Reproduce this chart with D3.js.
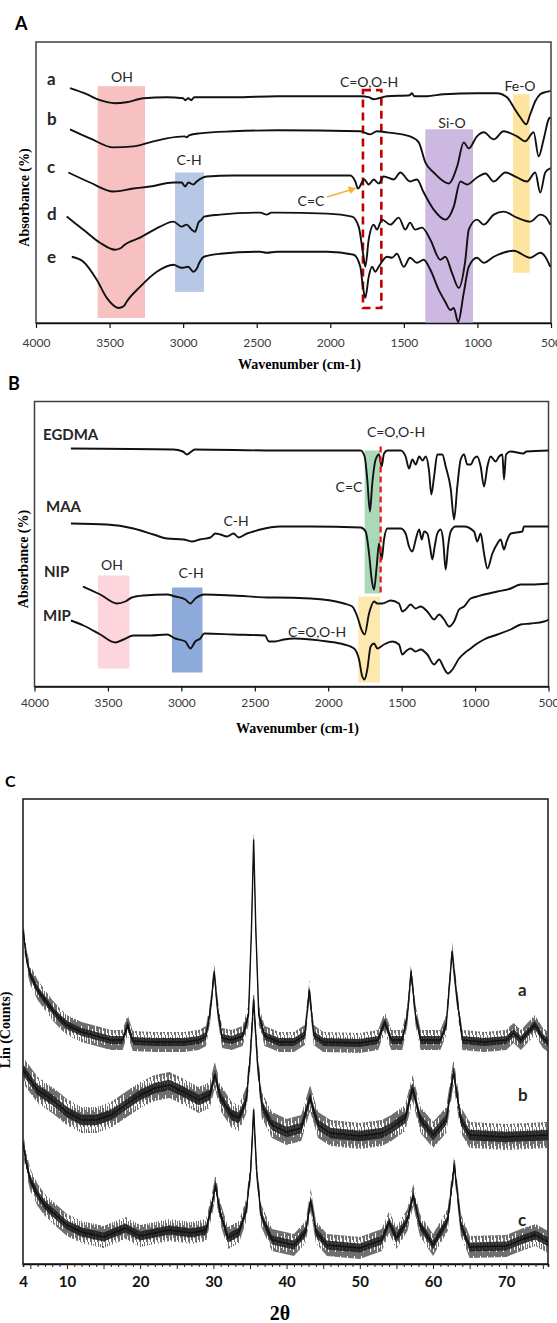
<!DOCTYPE html>
<html>
<head>
<meta charset="utf-8">
<script src="https://cdn.jsdelivr.net/npm/d3@7"></script>
<style>
    body { margin: 0; background: #fff; }
    svg { display: block; }
    .sans { font-family: Lato, "Open Sans", sans-serif; }
    .serif { font-family: "Liberation Serif", "DejaVu Serif", serif; font-weight: bold; }
</style>
</head>
<body>
<script>
// ---- data ----
var irTicks = [4000, 3500, 3000, 2500, 2000, 1500, 1000, 500];
var xrdTickLabels = [4, 10, 20, 30, 40, 50, 60, 70];

// panel A : [wavenumber, absorbance (arb.)]
var ftirA_a = [[3769,234],[3656,228],[3565,222],[3463,219],[3384,220],[3271,224],[3112,225],[3000,224],[2985,222],[2965,224],[2945,222],[2925,225],[2660,225],[2360,226],[1796,226],[1739,225],[1705,223],[1671,224],[1615,226],[1460,227],[1445,229],[1430,226],[1343,226],[1229,228],[1003,229],[867,229],[799,225],[754,215],[709,205],[668,198],[641,208],[607,221],[573,228],[539,230],[505,231]];
var ftirA_b = [[3769,193],[3633,184],[3474,175],[3338,176],[3225,180],[3112,184],[2990,186],[2976,185],[2960,187],[2885,189],[2660,191],[2362,192],[1796,191],[1728,188],[1683,191],[1615,190],[1458,186],[1399,180],[1354,160],[1297,150],[1195,139],[1138,156],[1093,180],[1059,174],[1003,186],[957,190],[889,183],[822,191],[731,186],[675,181],[618,190],[584,166],[550,183],[516,203],[505,205]];
var ftirA_c = [[3780,150],[3633,140],[3474,131],[3338,134],[3225,136],[3066,140],[3010,140],[2987,136],[2965,140],[2931,138],[2908,141],[2840,146],[2660,147],[2362,147],[1864,147],[1830,141],[1812,134],[1769,143],[1739,138],[1705,143],[1671,139],[1637,146],[1569,143],[1524,150],[1458,141],[1411,143],[1365,130],[1297,113],[1218,103],[1161,116],[1116,141],[1070,138],[1003,145],[946,149],[889,141],[810,150],[731,145],[663,141],[607,150],[573,130],[539,150],[505,154]];
var ftirA_d = [[3791,106],[3678,93],[3565,80],[3463,73],[3420,75],[3406,77],[3293,85],[3157,96],[3066,101],[3010,96],[2976,98],[2942,93],[2919,91],[2896,100],[2874,103],[2858,106],[2749,108],[2477,110],[2432,108],[2400,110],[2362,110],[2022,109],[1852,106],[1807,96],[1778,70],[1762,56],[1739,83],[1705,98],[1683,93],[1649,103],[1592,98],[1535,105],[1490,93],[1458,100],[1424,93],[1377,95],[1320,83],[1252,63],[1218,66],[1173,50],[1127,35],[1082,63],[1059,93],[1003,103],[957,98],[889,108],[822,111],[731,105],[641,101],[573,108],[539,106],[505,98]];
var ftirA_e = [[3757,66],[3678,61],[3587,43],[3519,25],[3440,15],[3402,17],[3385,21],[3293,36],[3179,51],[3066,58],[3010,55],[2965,56],[2931,51],[2908,54],[2890,60],[2858,66],[2749,69],[2477,71],[2432,70],[2362,71],[2022,71],[1841,68],[1796,56],[1778,36],[1762,25],[1739,46],[1716,56],[1694,51],[1671,56],[1615,66],[1581,65],[1547,69],[1501,56],[1458,65],[1411,60],[1365,63],[1320,53],[1263,33],[1218,21],[1184,13],[1161,15],[1131,1],[1093,30],[1059,56],[1003,65],[957,60],[889,66],[754,72],[641,65],[573,70],[539,66],[505,56]];
var seriesNamesA = ["a", "b", "c", "d", "e"];

// panel A highlighted regions: [label, wn from, wn to, abs low, abs high]
var bandsA = [["OH", 3581, 3259, 5, 236], ["C-H", 3055, 2858, 31, 150], ["Si-O", 1354, 1030, 0, 193], ["Fe-O", 758, 645, 50, 228]];
var carbonylBoxA = [1778, 1653, 15, 232];

// panel B
var ftirB_egdma = [[3752,238],[3055,237],[2990,235],[2962,232],[2940,234],[2909,237],[2362,236],[1779,236],[1752,230],[1734,207],[1716,175],[1700,203],[1677,227],[1654,232],[1636,220],[1620,233],[1597,236],[1507,236],[1473,230],[1450,218],[1427,227],[1404,222],[1381,230],[1358,226],[1336,230],[1313,215],[1298,192],[1279,210],[1257,232],[1223,232],[1200,220],[1166,198],[1143,167],[1121,200],[1098,227],[1075,232],[1053,222],[1030,222],[1007,228],[985,230],[962,220],[939,200],[916,220],[894,230],[860,225],[837,230],[814,232],[803,207],[789,232],[757,235],[671,233],[650,235],[496,236]];
var ftirB_maa = [[3752,163],[3507,162],[3326,158],[3190,152],[3098,148],[2985,147],[2928,145],[2874,147],[2803,149],[2769,153],[2735,152],[2690,150],[2644,153],[2610,149],[2553,153],[2508,155],[2462,157],[2326,160],[2120,160],[1779,159],[1745,155],[1722,133],[1704,107],[1688,97],[1670,120],[1654,143],[1636,127],[1620,147],[1597,158],[1507,158],[1473,153],[1450,140],[1427,135],[1404,147],[1381,157],[1363,147],[1347,155],[1325,153],[1307,140],[1291,127],[1275,140],[1257,153],[1234,157],[1218,147],[1200,117],[1184,140],[1166,155],[1132,160],[1075,160],[1007,155],[985,145],[962,153],[939,133],[916,118],[882,133],[848,143],[826,147],[803,137],[785,145],[757,153],[678,155],[667,160],[496,160]];
var ftirB_nip = [[3670,100],[3552,92],[3439,83],[3382,85],[3337,89],[3258,91],[3098,92],[3042,90],[2973,87],[2939,83],[2905,88],[2871,91],[2844,92],[2645,91],[2394,89],[2362,89],[2120,88],[1892,83],[1836,80],[1802,70],[1774,57],[1752,52],[1722,73],[1688,85],[1665,83],[1631,83],[1575,86],[1518,83],[1495,75],[1473,77],[1439,82],[1405,78],[1371,80],[1325,75],[1279,67],[1245,72],[1211,67],[1177,60],[1143,65],[1109,77],[1075,80],[1030,88],[985,90],[939,92],[848,95],[757,98],[689,102],[621,102],[496,103]];
var ftirB_mip = [[3752,66],[3666,61],[3552,52],[3450,44],[3394,47],[3326,51],[3212,51],[3098,52],[3042,48],[2973,45],[2939,38],[2905,45],[2871,48],[2844,53],[2645,52],[2430,51],[2405,45],[2362,45],[2301,47],[2233,48],[2120,47],[2006,45],[1892,42],[1824,38],[1790,27],[1768,10],[1752,7],[1734,17],[1711,40],[1688,43],[1665,38],[1620,42],[1563,45],[1518,42],[1495,32],[1473,35],[1439,38],[1405,35],[1371,37],[1325,32],[1279,22],[1245,27],[1211,18],[1184,13],[1154,17],[1109,28],[1075,33],[1030,38],[985,43],[939,47],[848,52],[757,57],[689,62],[621,63],[530,65],[496,67]];
var seriesNamesB = ["EGDMA", "MAA", "NIP", "MIP"];

var bandsB = [["OH", 3568, 3353, 18, 111], ["C-H", 3064, 2856, 14, 99], ["C=C", 1752, 1647, 93, 236], ["C=O,O-H", 1795, 1647, 4, 90]];
var carbonylLineB = [1643, 93, 240];

// panel C : [2theta, intensity (arb.)]
var xrd_a = [[4,334],[4.5,304],[5,289],[6,274],[7,264],[8,254],[9,246],[10,239],[12,232],[14,228],[16,224],[17.6,224],[18.3,239],[19,223],[22,222],[26,222],[28,224],[29,228],[29.6,254],[30.1,292],[30.6,254],[31.2,226],[32.5,224],[34,228],[34.8,249],[35.2,334],[35.5,424],[35.8,334],[36.2,249],[37,228],[39,222],[41,222],[42.5,229],[43.1,274],[43.7,229],[45,222],[50,221],[52.5,224],[53.4,242],[54.3,224],[55.8,224],[56.5,249],[57,292],[57.6,249],[58.3,224],[61,224],[61.8,239],[62.6,312],[63.3,264],[64,224],[67,222],[70,224],[71,231],[72,224],[73.9,239],[75,226],[75.7,222]];
var xrd_b = [[4,194],[5,184],[6,174],[8,164],[10,152],[12,144],[14,144],[16,149],[18,159],[20,169],[22,176],[24,179],[26,172],[28,164],[29.5,169],[30.2,189],[31,166],[32.5,149],[33.5,146],[34.5,164],[35,204],[35.5,264],[36,204],[36.6,159],[38,139],[40,132],[42,136],[43.2,166],[44.3,139],[46,131],[50,128],[53,131],[54.3,136],[56.2,146],[57.2,176],[58.3,144],[60,129],[61.8,144],[62.8,192],[63.8,144],[65,129],[70,127],[75.7,129]];
var xrd_c = [[4,121],[4.5,99],[5,84],[6,69],[7,59],[8,52],[10,39],[12,32],[15,27],[18,36],[20,28],[24,34],[27,31],[29,34],[29.8,59],[30.3,79],[30.9,52],[32,26],[33.5,32],[34.5,54],[35.1,94],[35.5,154],[35.9,94],[36.5,49],[38,24],[41,19],[42.6,32],[43.3,64],[44,32],[45.5,19],[50,16],[53,24],[54,42],[55,26],[56.5,44],[57.3,69],[58.2,39],[60,19],[62,44],[62.9,99],[63.8,39],[65,17],[70,18],[72,24],[74,29],[75.7,22]];
var seriesNamesC = ["a", "b", "c"];

// ---- styles ----
var bandColorsA = ["#f8c1c1", "#b7c8e6", "#cdb8e2", "#fee59f"];
var bandColorsB = ["#fcd6dc", "#8eaadb", "#a9d9b9", "#fde9b0"];
var noiseSpread = [10, 13, 11];

var svg = d3.select("body").append("svg")
    .attr("width", 557)
    .attr("height", 1323);

var defs = svg.append("defs");

defs.append("marker")
    .attr("id", "arrowHead")
    .attr("viewBox", "0 0 10 10")
    .attr("refX", 8).attr("refY", 5)
    .attr("markerWidth", 5).attr("markerHeight", 5)
    .attr("orient", "auto")
    .append("path")
    .attr("d", "M0,0 L10,5 L0,10 z")
    .attr("fill", "#f2b43c");

// dense vertical hatch to imitate counting noise
var noisePattern = defs.append("pattern")
    .attr("id", "noise")
    .attr("patternUnits", "userSpaceOnUse")
    .attr("width", 7)
    .attr("height", 23);
[[0.5, 0, 23], [1.5, 6, 17], [2.5, 2, 21], [3.5, 8, 23], [4.5, 0, 14], [5.5, 4, 19], [6.5, 10, 23]].forEach(function(h){
    noisePattern.append("line")
        .attr("x1", h[0]).attr("x2", h[0])
        .attr("y1", h[1]).attr("y2", h[2])
        .attr("stroke", "#4a4a4a")
        .attr("stroke-width", 0.8);
});

function panelLetter(letter, x, y, size){
    svg.append("text")
        .attr("class", "sans")
        .attr("x", x).attr("y", y)
        .style("font-size", size + "px")
        .style("font-weight", "bold")
        .text(letter);
}

function plainText(str, x, y, size, weight, anchor){
    svg.append("text")
        .attr("class", "sans")
        .attr("x", x).attr("y", y)
        .attr("text-anchor", anchor || "middle")
        .style("font-size", size + "px")
        .style("font-weight", weight || "normal")
        .style("fill", "#262626")
        .text(str);
}

function setIrPanel(box, yMax, id, tickPad){
    var x = d3.scaleLinear().domain([4000, 500]).range([box.left, box.right]);
    var y = d3.scaleLinear().domain([0, yMax]).range([box.bottom, box.top]);

    defs.append("clipPath").attr("id", id)
        .append("rect")
        .attr("x", box.left).attr("y", box.top)
        .attr("width", box.right - box.left)
        .attr("height", box.bottom - box.top);

    svg.append("rect")
        .attr("x", box.left).attr("y", box.top)
        .attr("width", box.right - box.left)
        .attr("height", box.bottom - box.top)
        .attr("fill", "none")
        .attr("stroke", "#3f3f3f")
        .attr("stroke-width", 1.5);

    var layer = svg.append("g").attr("clip-path", "url(#" + id + ")");

    var axis = svg.append("g")
        .attr("class", "sans")
        .attr("transform", "translate(0," + box.bottom + ")")
        .call(d3.axisBottom(x).tickValues(irTicks).tickSize(5).tickSizeOuter(0).tickPadding(tickPad).tickFormat(d3.format("d")));
    axis.select(".domain").attr("stroke", "#111").attr("stroke-width", 1.6);
    axis.selectAll(".tick line").attr("stroke", "#111").attr("stroke-width", 1.2);
    axis.selectAll("text").style("font-size", "12px").style("fill", "#3a3a3a").style("font-family", "Lato, 'Open Sans', sans-serif");

    svg.append("text")
        .attr("class", "serif")
        .attr("x", (box.left + box.right) / 2 + 6)
        .attr("y", box.bottom + 46)
        .attr("text-anchor", "middle")
        .style("font-size", "14px")
        .text("Wavenumber (cm-1)");

    svg.append("text")
        .attr("class", "serif")
        .attr("transform", "translate(" + (box.left - 7) + "," + ((box.top + box.bottom) / 2 + 15) + ") rotate(-90)")
        .attr("text-anchor", "middle")
        .style("font-size", "14px")
        .text("Absorbance (%)");

    return {x: x, y: y, layer: layer};
}

function drawBands(p, bands, colors){
    p.layer.selectAll(".band")
        .data(bands)
        .enter()
        .append("rect")
        .attr("x", d => p.x(d[1]))
        .attr("width", d => p.x(d[2]) - p.x(d[1]))
        .attr("y", d => p.y(d[4]))
        .attr("height", d => p.y(d[3]) - p.y(d[4]))
        .attr("fill", (d, i) => colors[i]);
}

function drawSpectra(p, list){
    var line = d3.line()
        .x(d => p.x(d[0]))
        .y(d => p.y(d[1]))
        .curve(d3.curveMonotoneX);
    p.layer.selectAll(".spectrum")
        .data(list)
        .enter()
        .append("path")
        .attr("class", "spectrum")
        .attr("d", line)
        .attr("fill", "none")
        .attr("stroke", "#111")
        .attr("stroke-width", 1.9)
        .attr("stroke-linejoin", "round");
}

// ===== Panel A =====
panelLetter("A", 15, 30, 18);
var pA = setIrPanel({left: 36, right: 551, top: 42, bottom: 323}, 280, "clipA", 10);
drawBands(pA, bandsA, bandColorsA);
pA.layer.append("rect")
    .attr("x", pA.x(carbonylBoxA[0]))
    .attr("width", pA.x(carbonylBoxA[1]) - pA.x(carbonylBoxA[0]))
    .attr("y", pA.y(carbonylBoxA[3]))
    .attr("height", pA.y(carbonylBoxA[2]) - pA.y(carbonylBoxA[3]))
    .attr("fill", "none")
    .attr("stroke", "#c00000")
    .attr("stroke-width", 2.6)
    .attr("stroke-dasharray", "8,5");
drawSpectra(pA, [ftirA_a, ftirA_b, ftirA_c, ftirA_d, ftirA_e]);

var labelYA = [85, 125, 173, 220, 263];
seriesNamesA.forEach(function(n, i){ plainText(n, 47, labelYA[i], 17, "bold", "start"); });
plainText("OH", 122, 82, 14);
plainText("C-H", 189, 165, 14);
plainText("C=O,O-H", 369, 87, 14);
plainText("Si-O", 452, 128, 14);
plainText("Fe-O", 520, 91, 14);
plainText("C=C", 311, 206, 14);
svg.append("line")
    .attr("x1", 327).attr("y1", 197)
    .attr("x2", 355).attr("y2", 188.5)
    .attr("stroke", "#f2b43c")
    .attr("stroke-width", 1.6)
    .attr("marker-end", "url(#arrowHead)");

// ===== Panel B =====
panelLetter("B", 8, 390, 18);
var pB = setIrPanel({left: 34.5, right: 548.5, top: 401.5, bottom: 686.5}, 285, "clipB", 7);
drawBands(pB, bandsB, bandColorsB);
drawSpectra(pB, [ftirB_egdma, ftirB_maa, ftirB_nip, ftirB_mip]);
pB.layer.append("line")
    .attr("x1", pB.x(carbonylLineB[0])).attr("x2", pB.x(carbonylLineB[0]))
    .attr("y1", pB.y(carbonylLineB[2])).attr("y2", pB.y(carbonylLineB[1]))
    .attr("stroke", "#ee1111")
    .attr("stroke-width", 2.2)
    .attr("stroke-dasharray", "6,4");

var labelPosB = [[43, 440], [46, 512], [44, 577], [43, 621]];
seriesNamesB.forEach(function(n, i){ plainText(n, labelPosB[i][0], labelPosB[i][1], 15, "bold", "start"); });
plainText("OH", 112, 570, 14);
plainText("C-H", 191, 578, 14);
plainText("C-H", 236, 526, 14);
plainText("C=O,O-H", 396, 437, 14);
plainText("C=C", 349, 492, 14);
plainText("C=O,O-H", 317, 637, 14);

// ===== Panel C =====
panelLetter("C", 5, 787, 16);
var boxC = {left: 23, right: 548, top: 799, bottom: 1264};
var xC = d3.scaleLinear().domain([4, 75.7]).range([boxC.left, boxC.right]);
var yC = d3.scaleLinear().domain([0, 465]).range([boxC.bottom, boxC.top]);

defs.append("clipPath").attr("id", "clipC")
    .append("rect")
    .attr("x", boxC.left).attr("y", boxC.top)
    .attr("width", boxC.right - boxC.left)
    .attr("height", boxC.bottom - boxC.top);

svg.append("rect")
    .attr("x", boxC.left).attr("y", boxC.top)
    .attr("width", boxC.right - boxC.left)
    .attr("height", boxC.bottom - boxC.top)
    .attr("fill", "none")
    .attr("stroke", "#222")
    .attr("stroke-width", 1.6);

var layerC = svg.append("g").attr("clip-path", "url(#clipC)");
var xrdList = [xrd_a, xrd_b, xrd_c];

xrdList.forEach(function(series, i){
    var spread = noiseSpread[i];
    var outer = d3.area()
        .x(d => xC(d[0]))
        .y0(d => yC(d[1]) + spread)
        .y1(d => yC(d[1]) - spread);
    var inner = d3.area()
        .x(d => xC(d[0]))
        .y0(d => yC(d[1]) + spread * 0.4)
        .y1(d => yC(d[1]) - spread * 0.4);
    layerC.append("path")
        .attr("d", outer(series))
        .attr("fill", "url(#noise)");
    layerC.append("path")
        .attr("d", inner(series))
        .attr("fill", "#1c1c1c")
        .attr("opacity", 0.85);
    layerC.append("path")
        .attr("d", d3.line().x(d => xC(d[0])).y(d => yC(d[1]))(series))
        .attr("fill", "none")
        .attr("stroke", "#111")
        .attr("stroke-width", 1.4)
        .attr("stroke-linejoin", "round");
});

var axisC = svg.append("g")
    .attr("transform", "translate(0," + boxC.bottom + ")")
    .call(d3.axisBottom(xC)
        .tickValues(d3.range(4, 76, 1))
        .tickSizeOuter(0)
        .tickSize(3)
        .tickPadding(9)
        .tickFormat(d => xrdTickLabels.indexOf(d) >= 0 ? d : ""));
axisC.select(".domain").attr("stroke", "#111").attr("stroke-width", 1.6);
axisC.selectAll(".tick line")
    .attr("stroke", "#222")
    .attr("y2", d => d % 5 === 0 ? 5 : 3);
axisC.selectAll("text")
    .style("font-family", "Lato, 'Open Sans', sans-serif")
    .style("font-weight", "bold")
    .style("font-size", "15px")
    .style("fill", "#111");

var labelYC = [996, 1101, 1226];
seriesNamesC.forEach(function(n, i){ plainText(n, 518, labelYC[i], 17, "bold", "start"); });

svg.append("text")
    .attr("class", "serif")
    .attr("x", 280).attr("y", 1320)
    .attr("text-anchor", "middle")
    .style("font-size", "20px")
    .text("2θ");

svg.append("text")
    .attr("class", "serif")
    .attr("transform", "translate(10,1030) rotate(-90)")
    .attr("text-anchor", "middle")
    .style("font-size", "14px")
    .text("Lin (Counts)");
</script>
</body>
</html>
